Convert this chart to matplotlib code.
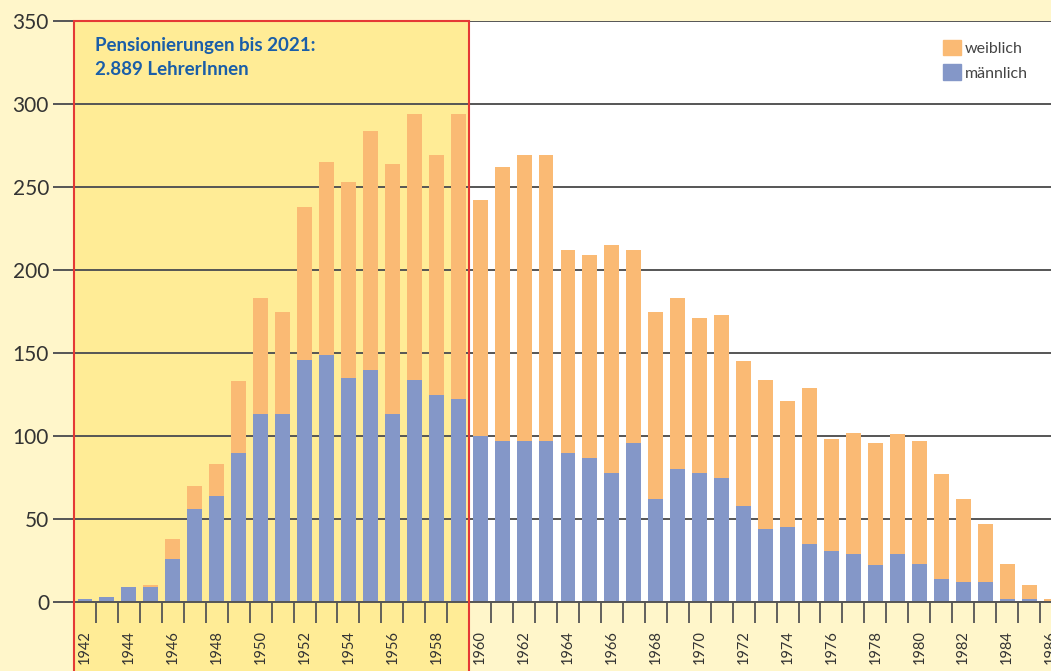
import matplotlib
matplotlib.use("Agg")
import matplotlib.pyplot as plt
import matplotlib.transforms as mtransforms
from matplotlib.patches import Rectangle, Patch
import numpy as np

# Pensionierungen je Geburtsjahrgang
years = list(range(1942, 1987))
maennlich = [2, 3, 9, 9, 26, 56, 64, 90, 113, 113, 146, 149, 135, 140, 113, 134, 125, 122,
             100, 97, 97, 97, 90, 87, 78, 96, 62, 80, 78, 75, 58, 44,
             45, 35, 31, 29, 22, 29, 23, 14, 12, 12, 2, 2, 0]
weiblich = [0, 0, 0, 1, 12, 14, 19, 43, 70, 62, 92, 116, 118, 144, 151, 160, 144, 172,
            142, 165, 172, 172, 122, 122, 137, 116, 113, 103, 93, 98, 87, 90,
            76, 94, 67, 73, 74, 72, 74, 63, 50, 35, 21, 8, 2]
bis_jahr = 1959  # markierter Bereich: Pensionierungen bis 2021
label_years = [y for y in years if y % 2 == 0]

c_m = "#8497C8"
c_w = "#FABA74"
c_bg = "#FFF6CA"
c_hl = "#FFEC96"
c_red = "#E53935"
c_grid = "#555555"

plt.rcParams['font.family'] = ['Lato', 'DejaVu Sans']

fig = plt.figure(figsize=(10.51, 6.71), dpi=100, facecolor=c_bg)
ax = fig.add_axes([74 / 1051, 1 - 602 / 671, 1 - 74 / 1051, (602 - 21) / 671])
ax.set_facecolor("white")

ax.bar(years, maennlich, width=0.68, color=c_m, zorder=3, label="männlich")
ax.bar(years, weiblich, width=0.68, bottom=maennlich, color=c_w, zorder=3, label="weiblich")

ax.set_xlim(years[0] - 0.5, years[-1])
ax.set_ylim(0, 350)

# highlighted area (data x, figure y)
trans = mtransforms.blended_transform_factory(ax.transData, fig.transFigure)
top = ax.get_position().y1
x0 = years[0] - 0.5
w = bis_jahr + 0.5 - x0
ax.add_patch(Rectangle((x0, 0), w, top, transform=trans, facecolor=c_hl,
                       edgecolor="none", zorder=0.5, clip_on=False))
ax.add_patch(Rectangle((x0, -0.01), w, top + 0.01, transform=trans, facecolor="none",
                       edgecolor=c_red, lw=1.5, zorder=6, clip_on=False))

ax.set_yticks(np.arange(0, 351, 50))
ax.yaxis.grid(True, color=c_grid, lw=1.4, zorder=1)
ax.set_axisbelow(False)
ax.tick_params(axis="y", length=15, width=1.4, color=c_grid, labelsize=15,
               labelcolor="#333333", pad=3)

ax.set_xticks(label_years)
ax.set_xticklabels([str(y) for y in label_years], rotation=90, va="top")
ax.set_xticks([y - 0.5 for y in years], minor=True)
ax.tick_params(axis="x", which="major", length=0, pad=20, labelsize=10.5, labelcolor="#333333")
ax.tick_params(axis="x", which="minor", length=15, width=1.3, color=c_grid)

for s in ["top", "right", "left"]:
    ax.spines[s].set_visible(False)
ax.spines["bottom"].set_color(c_grid)
ax.spines["bottom"].set_linewidth(1.4)
ax.spines["bottom"].set_zorder(4)

ax.text(0.0215, 0.973, "Pensionierungen bis 2021:\n2.889 LehrerInnen", transform=ax.transAxes,
        ha="left", va="top", fontsize=13.5, fontweight="bold", color="#1A5EA8",
        linespacing=1.5, zorder=7)

handles = [Patch(color=c_w), Patch(color=c_m)]
ax.legend(handles, ["weiblich", "männlich"], loc="upper right", bbox_to_anchor=(0.976, 0.968),
          frameon=False, fontsize=11.5, handlelength=1.1, handleheight=1.1,
          handletextpad=0.25, labelspacing=0.55, borderpad=0, borderaxespad=0,
          labelcolor="#444444")

fig.savefig("out.png", dpi=100, facecolor=c_bg)
